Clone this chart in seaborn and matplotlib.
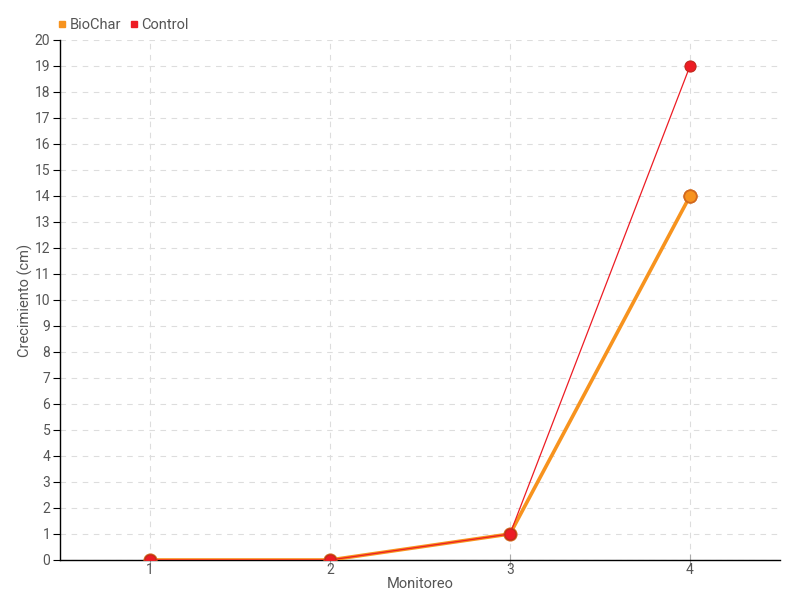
import numpy as np
import pandas as pd
import matplotlib
matplotlib.use("Agg")
import matplotlib.pyplot as plt
import seaborn as sns
from matplotlib.lines import Line2D

monitoreo = [1, 2, 3, 4]
biochar = [0, 0, 1, 14]
control = [0, 0, 1, 19]

series_names = ["BioChar", "Control"]
series_colors = ["#F7931E", "#ED1C24"]

df = pd.DataFrame({
    "Monitoreo": monitoreo * 2,
    "Crecimiento": biochar + control,
    "Serie": ["BioChar"] * len(monitoreo) + ["Control"] * len(monitoreo),
})

sns.set_style("white")
plt.rcParams["font.family"] = ["Roboto", "DejaVu Sans"]
text_color = "#555555"

fig = plt.figure(figsize=(8, 6), dpi=100)
ax = fig.add_axes([0.075, 0.0667, 0.9, 0.8667])

bio = df[df["Serie"] == "BioChar"]
ctl = df[df["Serie"] == "Control"]

sns.lineplot(data=bio, x="Monitoreo", y="Crecimiento", color=series_colors[0],
             linewidth=2.6, marker="o", markersize=9, markeredgecolor="#D2691E",
             markeredgewidth=1.2, ax=ax, zorder=3)
sns.lineplot(data=ctl, x="Monitoreo", y="Crecimiento", color=series_colors[1],
             linewidth=0.9, marker="o", markersize=8, markeredgecolor="#C0281C",
             markeredgewidth=0.8, ax=ax, zorder=4)
# orange marker on top at the last point
ax.plot(bio["Monitoreo"].iloc[-1:], bio["Crecimiento"].iloc[-1:], "o",
        color=series_colors[0], markersize=9, markeredgecolor="#D2691E",
        markeredgewidth=1.2, zorder=5)

ax.set_xlim(0.5, 4.5)
ax.set_ylim(0, 20)
ax.set_xticks(monitoreo)
ax.set_yticks(range(0, 21))
ax.grid(True, color="#dddddd", linestyle=(0, (5, 5)), linewidth=0.8)
ax.set_axisbelow(True)

for s in ["top", "right"]:
    ax.spines[s].set_visible(False)
ax.spines["left"].set_color("black")
ax.spines["bottom"].set_color("black")
ax.spines["left"].set_linewidth(1)
ax.spines["bottom"].set_linewidth(1)

ax.tick_params(axis="y", direction="out", length=5, color="black",
               labelsize=10, labelcolor=text_color, left=True, pad=2)
ax.tick_params(axis="x", direction="inout", length=8, color="#aaaaaa",
               labelsize=10, labelcolor=text_color, bottom=True, pad=-2)

ax.set_xlabel("Monitoreo", fontsize=10.5, color=text_color, labelpad=0)
ax.set_ylabel("Crecimiento (cm)", fontsize=10.5, color=text_color)
ax.yaxis.set_label_coords(-0.037, 0.5)

handles = [Line2D([], [], marker="s", linestyle="", color=c, markersize=4.5)
           for c in series_colors]
fig.legend(handles, series_names, loc="upper left", bbox_to_anchor=(0.052, 0.992),
           ncol=2, frameon=False, fontsize=10.5, handletextpad=0.0,
           columnspacing=0.4, handlelength=1.0, labelcolor=text_color)

plt.savefig("out.png", dpi=100)
